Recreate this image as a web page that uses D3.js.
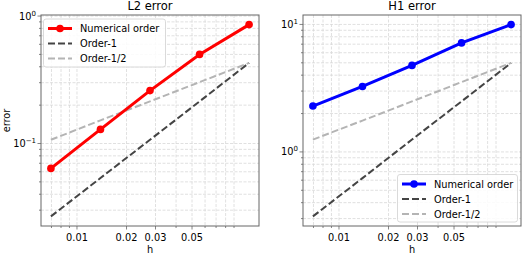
<!DOCTYPE html>
<html><head><meta charset="utf-8">
<script src="https://cdn.jsdelivr.net/npm/d3@7"></script>
<style>body{margin:0;background:#fff}svg{display:block;font-family:"DejaVu Sans",sans-serif}</style>
</head><body><svg id="c" width="523" height="255"></svg>
<script>
const h = [0.006944, 0.013889, 0.027778, 0.055556, 0.111111];
const l2Err = [0.0638, 0.129, 0.260, 0.500, 0.857];
const l2Order1 = [0.0268, 0.0536, 0.107, 0.214, 0.429];
const l2OrderHalf = [0.107, 0.152, 0.214, 0.303, 0.429];
const h1Err = [2.29, 3.26, 4.77, 7.16, 9.97];
const h1Order1 = [0.312, 0.623, 1.25, 2.49, 4.99];
const h1OrderHalf = [1.25, 1.76, 2.49, 3.53, 4.99];
const xTicks = [0.01, 0.02, 0.03, 0.05];
const xTickLabels = ["0.01", "0.02", "0.03", "0.05"];
const legendLabels = ["Numerical order", "Order-1", "Order-1/2"];

const svg = d3.select("#c");

function logDomain(vals){
  const lo = Math.log10(d3.min(vals)), hi = Math.log10(d3.max(vals));
  const m = (hi - lo) * 0.05;
  return [Math.pow(10, lo - m), Math.pow(10, hi + m)];
}

function panel(opt){
  const {x0, x1, y0, y1, title, err, o1, oh, color, yMajor, legendPos} = opt;
  const g = svg.append("g");
  const xs = d3.scaleLog().domain(logDomain(h)).range([x0, x1]);
  const ys = d3.scaleLog().domain(logDomain([...err, ...o1, ...oh])).range([y1, y0]);
  const [xd0, xd1] = xs.domain(), [yd0, yd1] = ys.domain();
  // minor ticks
  const xMinor = [];
  for (let e = -3; e <= 0; e++) for (let s = 2; s <= 9; s++) {
    const v = s * Math.pow(10, e);
    if (v >= xd0 && v <= xd1 && !xTicks.some(t => Math.abs(t - v) < 1e-9)) xMinor.push(v);
  }
  const yMinor = [], yMaj = [];
  for (let e = -3; e <= 2; e++) {
    const d = Math.pow(10, e);
    if (d >= yd0 && d <= yd1) yMaj.push(e);
    for (let s = 2; s <= 9; s++) { const v = s * d; if (v >= yd0 && v <= yd1) yMinor.push(v); }
  }
  // grid
  const grid = g.append("g").attr("stroke", "#d8d8d8").attr("stroke-width", 0.8).attr("stroke-dasharray", "3,1.5");
  [...xMinor, ...xTicks].forEach(v => grid.append("line").attr("x1", xs(v)).attr("x2", xs(v)).attr("y1", y0).attr("y2", y1));
  [...yMinor, ...yMaj.map(e => Math.pow(10, e))].forEach(v => grid.append("line").attr("y1", ys(v)).attr("y2", ys(v)).attr("x1", x0).attr("x2", x1));
  // lines
  const line = arr => d3.line().x((d, i) => xs(h[i])).y(d => ys(d))(arr);
  g.append("path").attr("d", line(o1)).attr("fill", "none").attr("stroke", "#444").attr("stroke-width", 2).attr("stroke-dasharray", "7,3");
  g.append("path").attr("d", line(oh)).attr("fill", "none").attr("stroke", "#b4b4b4").attr("stroke-width", 2).attr("stroke-dasharray", "7,3");
  g.append("path").attr("d", line(err)).attr("fill", "none").attr("stroke", color).attr("stroke-width", 3);
  g.selectAll(null).data(err).enter().append("circle").attr("cx", (d, i) => xs(h[i])).attr("cy", d => ys(d)).attr("r", 3.8).attr("fill", color);
  // spines
  g.append("rect").attr("x", x0).attr("y", y0).attr("width", x1 - x0).attr("height", y1 - y0).attr("fill", "none").attr("stroke", "#666").attr("stroke-width", 1);
  // x ticks
  const tk = g.append("g").attr("stroke", "#666").attr("stroke-width", 0.8);
  xMinor.forEach(v => tk.append("line").attr("x1", xs(v)).attr("x2", xs(v)).attr("y1", y1).attr("y2", y1 + 2));
  xTicks.forEach(v => tk.append("line").attr("x1", xs(v)).attr("x2", xs(v)).attr("y1", y1).attr("y2", y1 + 3.5));
  yMinor.forEach(v => tk.append("line").attr("y1", ys(v)).attr("y2", ys(v)).attr("x1", x0).attr("x2", x0 - 2));
  yMaj.forEach(e => tk.append("line").attr("y1", ys(Math.pow(10, e))).attr("y2", ys(Math.pow(10, e))).attr("x1", x0).attr("x2", x0 - 3.5));
  xTicks.forEach((v, i) => g.append("text").attr("x", xs(v)).attr("y", y1 + 14.5).attr("text-anchor", "middle").attr("font-size", 9.8).text(xTickLabels[i]));
  yMaj.forEach(e => {
    const t = g.append("text").attr("x", x0 - 5).attr("y", ys(Math.pow(10, e)) + 3.5).attr("text-anchor", "end").attr("font-size", 9.8);
    t.append("tspan").text("10");
    t.append("tspan").attr("dy", -4).attr("font-size", 7).text(e === 0 ? "0" : (e < 0 ? "\u2212" + (-e) : String(e)));
  });
  g.append("text").attr("x", (x0 + x1) / 2).attr("y", y1 + 27).attr("text-anchor", "middle").attr("font-size", 9.8).text("h");
  g.append("text").attr("x", (x0 + x1) / 2).attr("y", y0 - 5).attr("text-anchor", "middle").attr("font-size", 11.5).text(title);
  // legend
  const [lx, ly, lw, lh] = legendPos;
  const lg = g.append("g");
  lg.append("rect").attr("x", lx).attr("y", ly).attr("width", lw).attr("height", lh).attr("rx", 2.5).attr("fill", "#fff").attr("fill-opacity", 0.85).attr("stroke", "#d0d0d0").attr("stroke-width", 0.8);
  const styles = [{c: color, w: 3, dash: null, m: true}, {c: "#444", w: 2, dash: "7,3"}, {c: "#b4b4b4", w: 2, dash: "7,3"}];
  styles.forEach((s, i) => {
    const cy = ly + 9.5 + i * 15;
    const l = lg.append("line").attr("x1", lx + 4.5).attr("x2", lx + 28.5).attr("y1", cy).attr("y2", cy).attr("stroke", s.c).attr("stroke-width", s.w);
    if (s.dash) l.attr("stroke-dasharray", s.dash);
    if (s.m) lg.append("circle").attr("cx", lx + 16.5).attr("cy", cy).attr("r", 3.8).attr("fill", s.c);
    lg.append("text").attr("x", lx + 36.5).attr("y", cy + 3.6).attr("font-size", 9.8).text(legendLabels[i]);
  });
}

panel({x0: 41, x1: 259, y0: 15, y1: 226, title: "L2 error", err: l2Err, o1: l2Order1, oh: l2OrderHalf, color: "#ff0000", legendPos: [43.5, 19, 122, 48]});
panel({x0: 303, x1: 521, y0: 15, y1: 226, title: "H1 error", err: h1Err, o1: h1Order1, oh: h1OrderHalf, color: "#0000ff", legendPos: [397.5, 174.5, 120, 47.5]});

svg.append("text").attr("transform", "translate(10,120.5) rotate(-90)").attr("text-anchor", "middle").attr("font-size", 9.8).text("error");
</script></body></html>
